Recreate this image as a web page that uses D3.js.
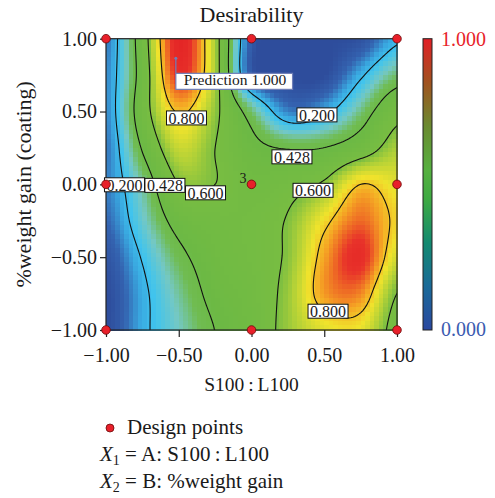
<!DOCTYPE html>
<html>
<head>
<meta charset="utf-8">
<script src="https://cdn.jsdelivr.net/npm/d3@7"></script>
<style>
  body { margin: 0; background: #fff; }
  svg text { font-family: 'Liberation Serif', 'DejaVu Serif', serif; fill: #1a1a1a; }
</style>
</head>
<body>
<div id="chart"></div>
<script>
// coded factor levels of the design (A across, B up)
const xLevels = [-1, -0.75, -0.5, -0.25, 0, 0.25, 0.5, 0.75, 1];
const yLevels = [1, 0.75, 0.5, 0.25, 0, -0.25, -0.5, -0.75, -1];

// desirability, one row per yLevel, top row first
const rowB100 = [0.10, 0.52, 1.00, 0.66, 0.05, 0.00, 0.00, 0.02, 0.18];
const rowB075 = [0.12, 0.50, 0.96, 0.66, 0.05, 0.00, 0.00, 0.18, 0.36];
const rowB050 = [0.12, 0.52, 0.81, 0.63, 0.36, 0.12, 0.17, 0.35, 0.55];
const rowB025 = [0.10, 0.44, 0.70, 0.60, 0.47, 0.42, 0.43, 0.52, 0.66];
const rowB000 = [0.11, 0.33, 0.60, 0.60, 0.52, 0.55, 0.62, 0.80, 0.74];
const rowBm025 = [0.08, 0.28, 0.48, 0.53, 0.55, 0.61, 0.77, 0.90, 0.78];
const rowBm050 = [0.03, 0.21, 0.39, 0.50, 0.55, 0.62, 0.84, 0.97, 0.72];
const rowBm075 = [0.00, 0.17, 0.33, 0.47, 0.53, 0.64, 0.85, 0.87, 0.60];
const rowBm100 = [0.00, 0.17, 0.30, 0.43, 0.52, 0.64, 0.74, 0.75, 0.55];
const desirabilityRows = [rowB100, rowB075, rowB050, rowB025, rowB000, rowBm025, rowBm050, rowBm075, rowBm100];

const contourLevels = [0.2, 0.428, 0.6, 0.8];
const contourLabels = [
  { text: '0.800', x: -0.447, y: 0.456 },
  { text: '0.200', x: 0.450, y: 0.477 },
  { text: '0.428', x: 0.278, y: 0.189 },
  { text: '0.200', x: -0.873, y: -0.003 },
  { text: '0.428', x: -0.595, y: -0.007 },
  { text: '0.600', x: -0.316, y: -0.058 },
  { text: '0.600', x: 0.423, y: -0.041 },
  { text: '0.800', x: 0.526, y: -0.871 }
];

const designX = [-1, 0, 1, -1, 0, 1, -1, 0, 1];
const designY = [1, 1, 1, 0, 0, 0, -1, -1, -1];
const designReps = [1, 1, 1, 1, 3, 1, 1, 1, 1];

const prediction = { x: -0.52, y: 0.865, value: 1.0 };
const tickValues = [-1, -0.5, 0, 0.5, 1];

const width = 495;
const height = 498;
const plot = { left: 106, right: 397, top: 38.7, bottom: 330 };

const x = d3.scaleLinear().domain([-1, 1]).range([plot.left, plot.right]);
const y = d3.scaleLinear().domain([-1, 1]).range([plot.bottom, plot.top]);

const colour = d3.scaleLinear()
  .domain([0, 0.08, 0.16, 0.22, 0.30, 0.38, 0.45, 0.60, 0.67, 0.76, 0.84, 0.90, 0.95, 1])
  .range(['#2e4d9c', '#3463b0', '#39a8e0', '#40c4ee', '#74c8c4', '#70bc52', '#6cb944', '#78bd42',
    '#b2d137', '#f0e32c', '#f5a524', '#ee6a25', '#e8322a', '#e42626'])
  .clamp(true);

function cubic(p0, p1, p2, p3, t) {
  return 0.5 * (2 * p1 + (-p0 + p2) * t + (2 * p0 - 5 * p1 + 4 * p2 - p3) * t * t + (-p0 + 3 * p1 - 3 * p2 + p3) * t * t * t);
}

function gridValue(col, row) {
  const r = Math.max(0, Math.min(yLevels.length - 1, row));
  const c = Math.max(0, Math.min(xLevels.length - 1, col));
  return desirabilityRows[r][c];
}

// smooth reading of the grid at a point given in coded units
function desirabilityAt(a, b) {
  const gx = (a - xLevels[0]) / (xLevels[1] - xLevels[0]);
  const gy = (yLevels[0] - b) / (yLevels[0] - yLevels[1]);
  const c0 = Math.min(Math.floor(gx), xLevels.length - 2);
  const r0 = Math.min(Math.floor(gy), yLevels.length - 2);
  const tx = gx - c0;
  const ty = gy - r0;
  const rows = [-1, 0, 1, 2].map(dr => cubic(
    gridValue(c0 - 1, r0 + dr), gridValue(c0, r0 + dr), gridValue(c0 + 1, r0 + dr), gridValue(c0 + 2, r0 + dr), tx));
  return Math.max(0, Math.min(1, cubic(rows[0], rows[1], rows[2], rows[3], ty)));
}

const svg = d3.select('#chart').append('svg')
  .attr('width', width)
  .attr('height', height);

svg.append('defs').append('clipPath').attr('id', 'plotClip')
  .append('rect')
  .attr('x', plot.left).attr('y', plot.top)
  .attr('width', plot.right - plot.left).attr('height', plot.bottom - plot.top);

// coloured raster, coarse like the original export
const cells = 64;
const cellData = [];
for (let j = 0; j < cells; j++) {
  for (let i = 0; i < cells; i++) {
    const a = -1 + (i + 0.5) * 2 / cells;
    const b = 1 - (j + 0.5) * 2 / cells;
    cellData.push({ i, j, v: desirabilityAt(a, b) });
  }
}
const cellW = (plot.right - plot.left) / cells;
const cellH = (plot.bottom - plot.top) / cells;

svg.append('g')
  .attr('shape-rendering', 'crispEdges')
  .selectAll('rect')
  .data(cellData)
  .join('rect')
  .attr('x', d => plot.left + d.i * cellW)
  .attr('y', d => plot.top + d.j * cellH)
  .attr('width', cellW + 0.6)
  .attr('height', cellH + 0.6)
  .attr('fill', d => colour(d.v));

// contour lines
const m = 146;
const samples = new Array(m * m);
for (let j = 0; j < m; j++) {
  for (let i = 0; i < m; i++) {
    samples[j * m + i] = desirabilityAt(-1 + i * 2 / (m - 1), 1 - j * 2 / (m - 1));
  }
}
const gx = d3.scaleLinear().domain([0.5, m - 0.5]).range([plot.left, plot.right]);
const gy = d3.scaleLinear().domain([0.5, m - 0.5]).range([plot.top, plot.bottom]);
const contourPath = d3.geoPath(d3.geoTransform({
  point(px, py) { this.stream.point(gx(px), gy(py)); }
}));

svg.append('g')
  .attr('clip-path', 'url(#plotClip)')
  .attr('fill', 'none')
  .attr('stroke', '#111')
  .attr('stroke-width', 1.1)
  .selectAll('path')
  .data(d3.contours().size([m, m]).thresholds(contourLevels)(samples))
  .join('path')
  .attr('d', contourPath);

// frame
svg.append('rect')
  .attr('x', plot.left).attr('y', plot.top)
  .attr('width', plot.right - plot.left).attr('height', plot.bottom - plot.top)
  .attr('fill', 'none')
  .attr('stroke', '#222')
  .attr('stroke-width', 1.2);

// axes
const xAxis = svg.append('g')
  .attr('transform', `translate(0,${plot.bottom})`)
  .call(d3.axisBottom(x).tickValues(tickValues).tickSize(7).tickSizeOuter(0).tickFormat(d3.format('.2f')));
const yAxis = svg.append('g')
  .attr('transform', `translate(${plot.left},0)`)
  .call(d3.axisLeft(y).tickValues(tickValues).tickSize(6).tickSizeOuter(0).tickFormat(d3.format('.2f')));

[xAxis, yAxis].forEach(axis => {
  axis.select('.domain').remove();
  axis.selectAll('.tick line').attr('stroke', '#222').attr('stroke-width', 1.2);
  axis.selectAll('.tick text')
    .attr('font-family', "'Liberation Serif', serif")
    .attr('font-size', 20)
    .attr('fill', '#1a1a1a');
});
xAxis.selectAll('.tick text').attr('dy', '1.1em');
yAxis.selectAll('.tick text').attr('x', -9);

// contour labels
const labelGroup = svg.append('g');
contourLabels.forEach(label => {
  const g = labelGroup.append('g');
  const text = g.append('text')
    .attr('x', x(label.x))
    .attr('y', y(label.y))
    .attr('dy', '0.36em')
    .attr('text-anchor', 'middle')
    .attr('font-size', 16)
    .text(label.text);
  const box = text.node().getBBox();
  g.insert('rect', 'text')
    .attr('x', box.x - 2)
    .attr('y', y(label.y) - 7)
    .attr('width', box.width + 4)
    .attr('height', 14)
    .attr('fill', '#fff')
    .attr('stroke', '#111')
    .attr('stroke-width', 1);
});

// prediction flag
const px = x(prediction.x);
const py = y(prediction.y);
svg.append('line')
  .attr('x1', px).attr('y1', py)
  .attr('x2', px).attr('y2', py + 15)
  .attr('stroke', '#6f7fb8')
  .attr('stroke-width', 1.2);
svg.append('circle')
  .attr('cx', px).attr('cy', py).attr('r', 1.5)
  .attr('fill', '#6f7fb8');
const predText = svg.append('text')
  .attr('x', px + 8)
  .attr('y', py + 27)
  .attr('font-size', 15.5)
  .text(`Prediction ${prediction.value.toFixed(3)}`);
const predBox = predText.node().getBBox();
svg.insert('rect', () => predText.node())
  .attr('x', px)
  .attr('y', py + 15)
  .attr('width', predBox.width + 14)
  .attr('height', 16)
  .attr('fill', '#fff')
  .attr('stroke', '#6f7fb8')
  .attr('stroke-width', 1.2);

// design points
const points = designX.map((d, i) => ({ a: d, b: designY[i], reps: designReps[i] }));
svg.append('g')
  .selectAll('circle')
  .data(points)
  .join('circle')
  .attr('cx', d => x(d.a))
  .attr('cy', d => y(d.b))
  .attr('r', 4.3)
  .attr('fill', '#e8202a')
  .attr('stroke', '#6a0a0a')
  .attr('stroke-width', 0.8);
svg.append('g')
  .selectAll('text')
  .data(points.filter(d => d.reps > 1))
  .join('text')
  .attr('x', d => x(d.a) - 5)
  .attr('y', d => y(d.b) - 1)
  .attr('text-anchor', 'end')
  .attr('font-size', 14)
  .text(d => d.reps);

// titles
svg.append('text')
  .attr('x', (plot.left + plot.right) / 2)
  .attr('y', 22)
  .attr('text-anchor', 'middle')
  .attr('font-size', 22)
  .text('Desirability');
svg.append('text')
  .attr('x', (plot.left + plot.right) / 2)
  .attr('y', 391)
  .attr('text-anchor', 'middle')
  .attr('font-size', 19.5)
  .text('S100\u2009:\u2009L100');
svg.append('text')
  .attr('transform', `translate(31,${(plot.top + plot.bottom) / 2}) rotate(-90)`)
  .attr('text-anchor', 'middle')
  .attr('font-size', 22)
  .text('%weight gain (coating)');

// colour bar
const barStops = [0, 0.15, 0.3, 0.45, 0.55, 0.7, 0.85, 1];
const barColours = ['#2a48a0', '#1a6a98', '#138a70', '#3eaa42', '#56b040', '#6a8a30', '#a0521f', '#e21f26'];
const grad = svg.select('defs').append('linearGradient')
  .attr('id', 'barGrad')
  .attr('x1', 0).attr('y1', 1).attr('x2', 0).attr('y2', 0);
grad.selectAll('stop')
  .data(barStops)
  .join('stop')
  .attr('offset', d => d)
  .attr('stop-color', (d, i) => barColours[i]);
svg.append('rect')
  .attr('x', 423).attr('y', plot.top)
  .attr('width', 9).attr('height', plot.bottom - plot.top)
  .attr('fill', 'url(#barGrad)')
  .attr('stroke', '#222')
  .attr('stroke-width', 1);
svg.append('text')
  .attr('x', 441).attr('y', 46)
  .attr('font-size', 20)
  .style('fill', '#e8242a')
  .text('1.000');
svg.append('text')
  .attr('x', 441).attr('y', 336)
  .attr('font-size', 20)
  .style('fill', '#3b5bb0')
  .text('0.000');

// legend
svg.append('circle')
  .attr('cx', 110).attr('cy', 428).attr('r', 4)
  .attr('fill', '#e8202a')
  .attr('stroke', '#6a0a0a')
  .attr('stroke-width', 0.8);
svg.append('text')
  .attr('x', 127).attr('y', 434)
  .attr('font-size', 21)
  .text('Design points');

function factorLine(yPos, index, name) {
  const t = svg.append('text')
    .attr('x', 100).attr('y', yPos)
    .attr('font-size', 21);
  t.append('tspan').attr('font-style', 'italic').text('X');
  t.append('tspan').attr('font-size', 14).attr('dy', 4).text(index);
  t.append('tspan').attr('dy', -4).text(` = ${name}`);
}
factorLine(461, '1', 'A: S100\u2009:\u2009L100');
factorLine(488, '2', 'B: %weight gain');
</script>
</body>
</html>
